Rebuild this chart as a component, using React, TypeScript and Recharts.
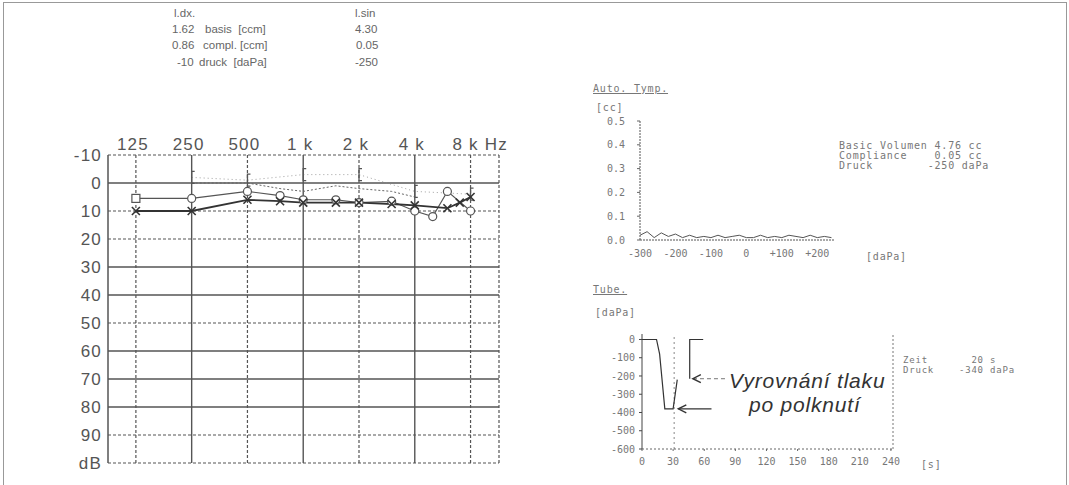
import React from "react";
import { LineChart, Line, XAxis, YAxis, ReferenceLine, ReferenceDot } from "recharts";

// ---- Audiogram ----
const FREQ_TICKS_HZ = [125, 250, 500, 1000, 2000, 4000, 8000];
const FREQ_TICK_LABELS = ["125", "250", "500", "1 k", "2 k", "4 k", "8 k Hz"];
const FREQ_SOLID_HZ = [250, 1000, 4000];
const DB_TICKS = [-10, 0, 10, 20, 30, 40, 50, 60, 70, 80, 90, 100];
const DB_SOLID = [0, 30, 40, 60, 70, 80];

const airLeftHz = [125, 250, 500, 750, 1000, 1500, 2000, 3000, 4000, 6000, 7000, 8000];
const airLeftDb = [10, 10, 6, 6.5, 7, 7, 7, 7.5, 8, 9, 7, 5];
const airRightHz = [125, 250, 500, 750, 1000, 1500, 2000, 3000, 4000, 5000, 6000, 8000];
const airRightDb = [5.5, 5.5, 3, 4.5, 6, 6, 7, 6.5, 10, 12, 3, 10];
const boneHz = [250, 500, 750, 1000, 1500, 2000, 3000, 4000];
const boneDb = [0, 0, 2, 3, 1, 2, 3, 5];
const maskHz = [250, 500, 1000, 2000, 4000, 8000];
const maskDb = [-2, -1, -3, -3, 3, 4];

// ---- Tympanometry ----
const tympPressure = [-300, -280, -260, -240, -220, -200, -180, -160, -140, -120, -100, -80, -60, -40, -20, 0, 20, 40, 60, 80, 100, 120, 140, 160, 180, 200, 220, 240];
const tympVolume = [0.02, 0.035, 0.01, 0.03, 0.015, 0.025, 0.01, 0.02, 0.01, 0.015, 0.01, 0.02, 0.01, 0.015, 0.02, 0.01, 0.01, 0.02, 0.01, 0.015, 0.01, 0.02, 0.015, 0.01, 0.02, 0.01, 0.015, 0.01];
const TYMP_TICKS = [-300, -200, -100, 0, 100, 200];
const CC_TICKS = [0, 0.1, 0.2, 0.3, 0.4, 0.5];

// ---- Tube function ----
const tubeTime = [0, 14, 17, 22, 30, 34, 40, 46, 46, 59];
const tubePressure: (number | null)[] = [0, 0, -80, -380, -380, -220, null, -215, 0, 0];
const TUBE_X_TICKS = [0, 30, 60, 90, 120, 150, 180, 210, 240];
const TUBE_Y_TICKS = [0, -100, -200, -300, -400, -500, -600];

const oct = (hz: number) => Math.log2(hz / 125);
const toSeries = (hz: number[], db: number[]) => hz.map((h, i) => ({ oct: oct(h), db: db[i] }));

const airLeft = toSeries(airLeftHz, airLeftDb);
const airRight = toSeries(airRightHz, airRightDb);
const bone = toSeries(boneHz, boneDb);
const mask = toSeries(maskHz, maskDb);
const tymp = tympPressure.map((p, i) => ({ p, v: tympVolume[i] }));
const tube = tubeTime.map((t, i) => ({ t, p: tubePressure[i] }));

const GRID = "#555";
const SANS = "'Liberation Sans', Arial, sans-serif";
const MONO = "'DejaVu Sans Mono', 'Liberation Mono', monospace";

const FreqTick = (props: any) => {
  const { x, y, payload } = props;
  const i = Math.round(payload.value);
  const last = i === FREQ_TICK_LABELS.length - 1;
  return (
    <text
      x={last ? x - 18 : x - 3}
      y={y}
      textAnchor={last ? "start" : "middle"}
      fontFamily={SANS}
      fontSize={17}
      letterSpacing={1.2}
      fill="#555"
    >
      {FREQ_TICK_LABELS[i]}
    </text>
  );
};

const XMark = (p: any) => {
  const { cx, cy } = p;
  if (cx == null || cy == null) return <g />;
  return (
    <g stroke="#333" strokeWidth={1.6}>
      <line x1={cx - 4} y1={cy - 4} x2={cx + 4} y2={cy + 4} />
      <line x1={cx - 4} y1={cy + 4} x2={cx + 4} y2={cy - 4} />
    </g>
  );
};

const OMark = (p: any) => {
  const { cx, cy, index } = p;
  if (cx == null || cy == null) return <g />;
  if (index === 0) {
    return <rect x={cx - 4} y={cy - 4} width={8} height={8} fill="#fff" stroke="#555" strokeWidth={1.2} />;
  }
  return <circle cx={cx} cy={cy} r={4} fill="#fff" stroke="#555" strokeWidth={1.2} />;
};

const BracketMark = (p: any) => {
  const { cx, cy } = p;
  if (cx == null || cy == null) return <g />;
  return (
    <path d={`M${cx + 3},${cy - 6} L${cx},${cy - 6} L${cx},${cy + 6} L${cx + 3},${cy + 6}`} fill="none" stroke="#555" strokeWidth={1.3} />
  );
};

const ArrowHead = (p: any) => {
  const { cx, cy } = p;
  if (cx == null || cy == null) return <g />;
  return <path d={`M${cx + 8},${cy - 4} L${cx},${cy} L${cx + 8},${cy + 4}`} fill="none" stroke="#333" strokeWidth={1.4} />;
};

const abs = (left: number, top: number, extra: React.CSSProperties = {}): React.CSSProperties => ({
  position: "absolute",
  left,
  top,
  whiteSpace: "pre",
  ...extra,
});

const tableText: React.CSSProperties = { fontFamily: SANS, fontSize: 11.5, color: "#666", lineHeight: "14px" };
const monoText: React.CSSProperties = { fontFamily: MONO, fontSize: 10, color: "#777", lineHeight: "11px", letterSpacing: 0.8 };
const noteText: React.CSSProperties = {
  fontFamily: SANS,
  fontStyle: "italic",
  fontSize: 21,
  letterSpacing: 0.8,
  color: "#333",
  lineHeight: "24px",
};

export default function App() {
  return (
    <div style={{ position: "absolute", left: 0, top: 0, width: 1069, height: 485, background: "#fff", overflow: "hidden" }}>
      {/* page frame */}
      <div style={{ position: "absolute", left: 3, top: 2, width: 1062, height: 520, border: "1px solid #999" }} />

      {/* header table */}
      <div style={{ ...abs(174, 6), ...tableText }}>l.dx.</div>
      <div style={{ ...abs(355, 6), ...tableText }}>l.sin</div>
      <div style={{ ...abs(172, 22), ...tableText }}>1.62</div>
      <div style={{ ...abs(205, 22), ...tableText }}>basis  [ccm]</div>
      <div style={{ ...abs(355, 22), ...tableText }}>4.30</div>
      <div style={{ ...abs(172, 38), ...tableText }}>0.86</div>
      <div style={{ ...abs(203, 38), ...tableText }}>compl. [ccm]</div>
      <div style={{ ...abs(356, 38), ...tableText }}>0.05</div>
      <div style={{ ...abs(177, 55), ...tableText }}>-10</div>
      <div style={{ ...abs(199, 55), ...tableText }}>druck  [daPa]</div>
      <div style={{ ...abs(355, 55), ...tableText }}>-250</div>

      {/* audiogram */}
      <div style={{ position: "absolute", left: 0, top: 0 }}>
        <LineChart width={520} height={485} margin={{ top: 125, right: 21, bottom: 22, left: 48 }}>
          <XAxis
            type="number"
            dataKey="oct"
            orientation="top"
            domain={[-0.5, 6.51]}
            ticks={FREQ_TICKS_HZ.map(oct)}
            allowDataOverflow
            axisLine={false}
            tickLine={false}
            tickSize={0}
            tickMargin={5}
            height={30}
            tick={FreqTick}
          />
          <YAxis
            type="number"
            dataKey="db"
            domain={[-10, 100]}
            reversed
            ticks={DB_TICKS}
            allowDataOverflow
            axisLine={false}
            tickLine={false}
            tickSize={0}
            tickMargin={6}
            width={60}
            tickFormatter={(v: number) => (v === 100 ? "dB" : String(v))}
            tick={{ fontFamily: SANS, fontSize: 17, fill: "#555", letterSpacing: 1.2 }}
          />
          {DB_TICKS.map((v) => (
            <ReferenceLine
              key={`h${v}`}
              y={v}
              stroke={GRID}
              strokeWidth={DB_SOLID.includes(v) ? 1.3 : 1.2}
              strokeDasharray={DB_SOLID.includes(v) ? undefined : "3 2"}
            />
          ))}
          {FREQ_TICKS_HZ.map((h) => (
            <ReferenceLine
              key={`v${h}`}
              x={oct(h)}
              stroke={GRID}
              strokeWidth={FREQ_SOLID_HZ.includes(h) ? 1.4 : 1.2}
              strokeDasharray={FREQ_SOLID_HZ.includes(h) ? undefined : "3 2"}
            />
          ))}
          <ReferenceLine x={-0.5} stroke={GRID} strokeWidth={1.5} />
          <ReferenceLine x={6.51} stroke={GRID} strokeWidth={1.2} strokeDasharray="3 2" />
          <Line data={bone} dataKey="db" stroke="#666" strokeWidth={1} strokeDasharray="2 2" dot={false} isAnimationActive={false} />
          <Line data={mask} dataKey="db" stroke="#888" strokeWidth={0.8} strokeDasharray="1 3" dot={BracketMark} isAnimationActive={false} />
          <Line data={airRight} dataKey="db" stroke="#555" strokeWidth={1.1} dot={OMark} isAnimationActive={false} />
          <Line data={airLeft} dataKey="db" stroke="#333" strokeWidth={1.8} dot={XMark} isAnimationActive={false} />
        </LineChart>
      </div>

      {/* tympanogram */}
      <div style={{ ...abs(593, 83), ...monoText, textDecoration: "underline" }}>Auto. Tymp.</div>
      <div style={{ ...abs(596, 102), ...monoText }}>[cc]</div>
      <div style={{ position: "absolute", left: 560, top: 100 }}>
        <LineChart width={300} height={175} margin={{ top: 21, right: 25, bottom: 10, left: 40 }}>
          <XAxis
            type="number"
            dataKey="p"
            domain={[-300, 250]}
            ticks={TYMP_TICKS}
            allowDataOverflow
            axisLine={{ stroke: "#555", strokeDasharray: "2 1" }}
            tickLine={false}
            tickSize={0}
            tickMargin={10}
            height={25}
            tickFormatter={(v: number) => (v > 0 ? `+${v}` : String(v))}
            tick={{ fontFamily: MONO, fontSize: 10, fill: "#777" }}
          />
          <YAxis
            type="number"
            dataKey="v"
            domain={[0, 0.5]}
            ticks={CC_TICKS}
            axisLine={{ stroke: "#555", strokeDasharray: "2 1" }}
            tickLine={{ stroke: "#666" }}
            tickSize={3}
            tickMargin={12}
            width={40}
            tickFormatter={(v: number) => v.toFixed(1)}
            tick={{ fontFamily: MONO, fontSize: 10, fill: "#777" }}
          />
          <Line data={tymp} dataKey="v" stroke="#555" strokeWidth={1} dot={false} isAnimationActive={false} />
        </LineChart>
      </div>
      <div style={{ ...abs(866, 251), ...monoText }}>[daPa]</div>
      <div style={{ ...abs(839, 140), ...monoText }}>Basic Volumen 4.76 cc</div>
      <div style={{ ...abs(839, 150), ...monoText }}>{"Compliance    0.05 cc"}</div>
      <div style={{ ...abs(839, 160), ...monoText }}>{"Druck        -250 daPa"}</div>

      {/* tube function */}
      <div style={{ ...abs(593, 284), ...monoText, textDecoration: "underline" }}>Tube.</div>
      <div style={{ ...abs(595, 307), ...monoText }}>[daPa]</div>
      <div style={{ position: "absolute", left: 560, top: 300 }}>
        <LineChart width={360} height={180} margin={{ top: 34, right: 27, bottom: 9, left: 40 }}>
          <XAxis
            type="number"
            dataKey="t"
            domain={[0, 242]}
            ticks={TUBE_X_TICKS}
            allowDataOverflow
            axisLine={{ stroke: "#666", strokeDasharray: "2 2" }}
            tickLine={{ stroke: "#666" }}
            tickSize={2}
            tickMargin={7}
            height={22}
            tick={{ fontFamily: MONO, fontSize: 10, fill: "#777" }}
          />
          <YAxis
            type="number"
            dataKey="p"
            domain={[-600, 30]}
            ticks={TUBE_Y_TICKS}
            allowDataOverflow
            axisLine={{ stroke: "#444" }}
            tickLine={{ stroke: "#444" }}
            tickSize={3}
            tickMargin={4}
            width={42}
            tick={{ fontFamily: MONO, fontSize: 10, fill: "#777" }}
          />
          <ReferenceLine x={31} stroke="#888" strokeDasharray="2 3" />
          <ReferenceLine x={242} stroke="#777" strokeDasharray="2 2" />
          <Line data={tube} dataKey="p" stroke="#333" strokeWidth={1.2} dot={false} connectNulls={false} isAnimationActive={false} />
          <ReferenceLine segment={[{ x: 80, y: -215 }, { x: 49, y: -215 }]} stroke="#777" strokeDasharray="4 3" />
          <ReferenceDot x={49} y={-215} r={0} shape={ArrowHead} />
          <ReferenceLine segment={[{ x: 67, y: -380 }, { x: 35, y: -380 }]} stroke="#333" strokeWidth={1.4} />
          <ReferenceDot x={35} y={-380} r={0} shape={ArrowHead} />
        </LineChart>
      </div>
      <div style={{ ...abs(921, 459), ...monoText }}>[s]</div>
      <div style={{ ...abs(903, 355), ...monoText, fontSize: 9 }}>{"Zeit       20 s"}</div>
      <div style={{ ...abs(903, 365), ...monoText, fontSize: 9 }}>{"Druck    -340 daPa"}</div>

      <div style={{ ...abs(729, 369), ...noteText }}>Vyrovnání tlaku</div>
      <div style={{ ...abs(749, 393), ...noteText }}>po polknutí</div>
    </div>
  );
}
